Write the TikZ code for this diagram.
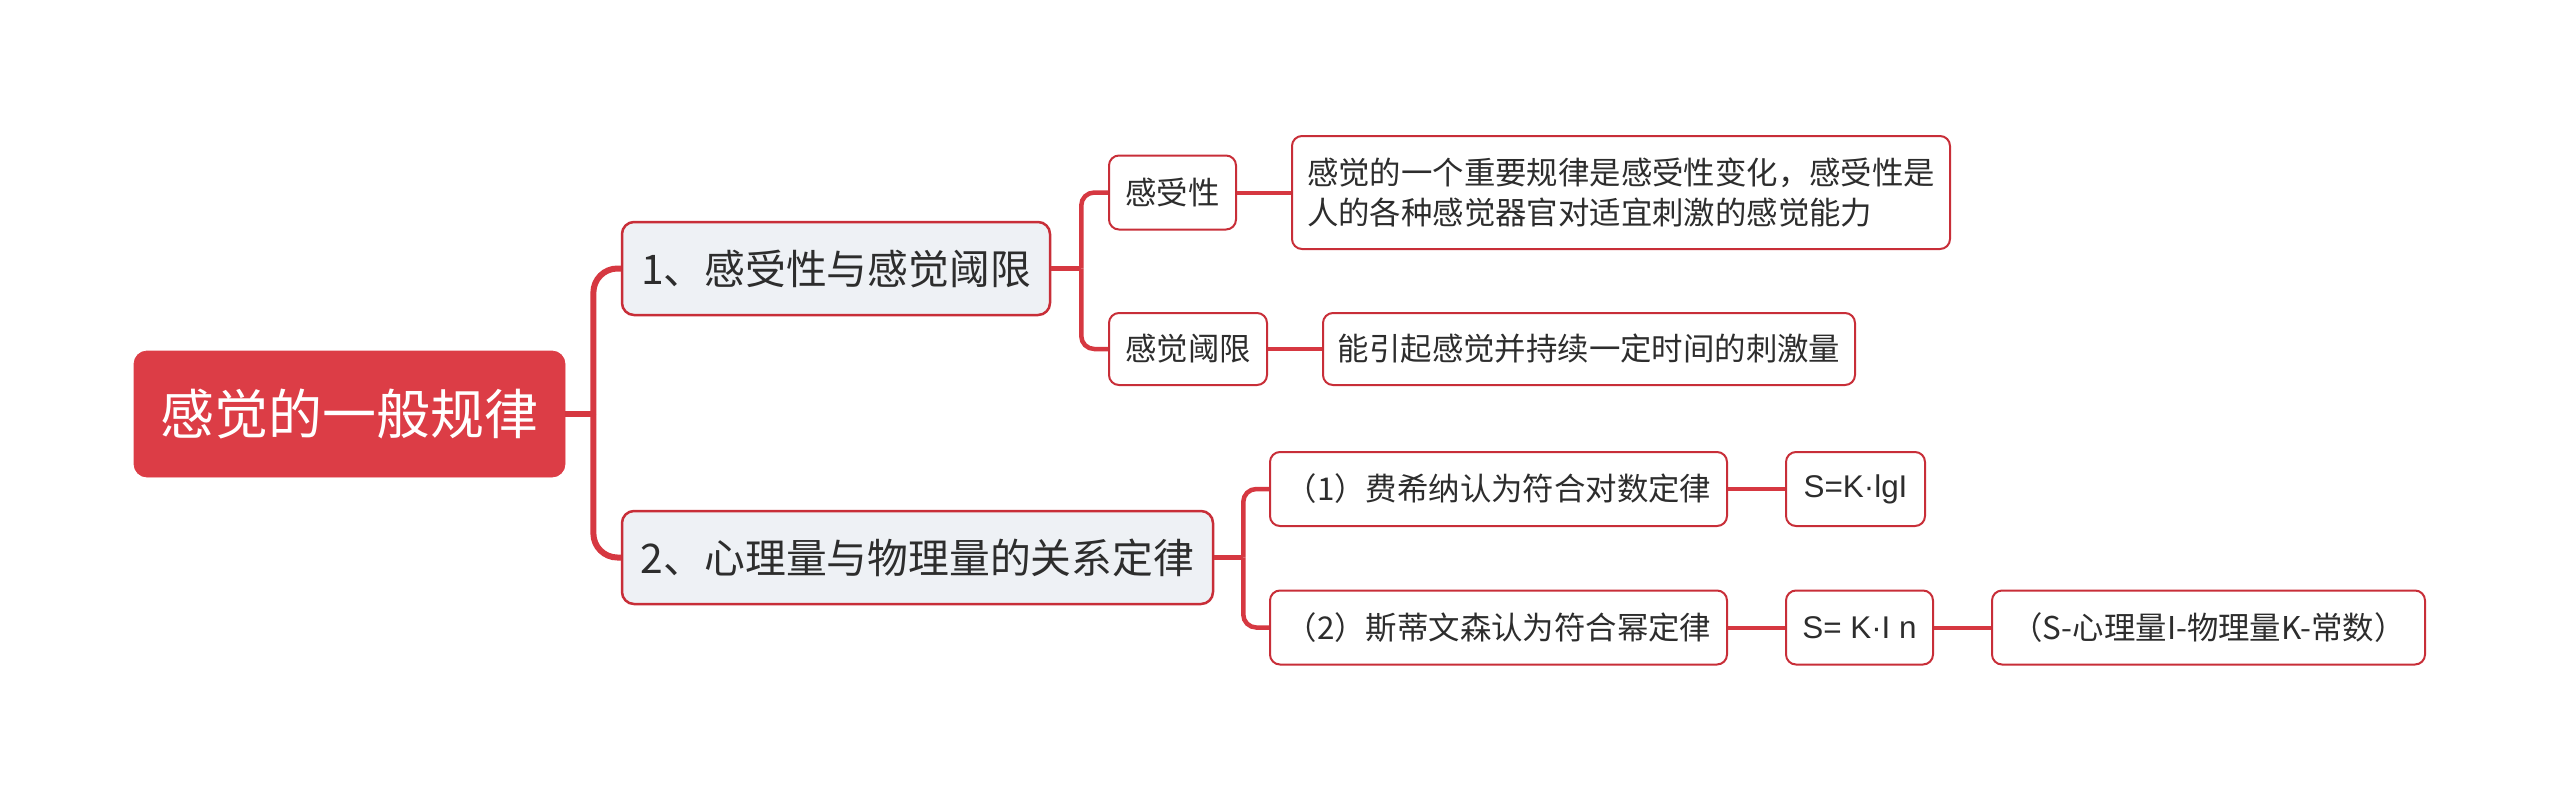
\documentclass[tikz,border=0pt]{standalone}
\usepackage{fontspec}
\setmainfont{Noto Sans CJK SC}
\newfontfamily\formfont{Liberation Sans}
\usetikzlibrary{positioning}

\definecolor{rootred}{RGB}{220,61,70}
\definecolor{edgered}{RGB}{200,46,56}
\definecolor{linered}{RGB}{214,56,65}
\definecolor{topicgray}{RGB}{238,241,245}
\definecolor{textgray}{RGB}{45,45,45}

\begin{document}
\begin{tikzpicture}[
  x=0.5pt, y=-0.5pt,
  node distance=27pt,
  box/.style={draw=edgered, fill=white, line width=1pt, rounded corners=5pt, inner sep=0pt,
              text=textgray, font=\fontsize{15.7}{20}\selectfont, minimum height=37pt, align=center},
  root/.style={fill=rootred, draw=rootred, rounded corners=6.5pt, inner sep=0pt, text=white,
               font=\fontsize{27}{32}\selectfont, minimum width=215.5pt, minimum height=63pt},
  topic/.style={box, fill=topicgray, line width=1.25pt, rounded corners=6pt,
                font=\fontsize{20.4}{24}\selectfont, minimum height=46.5pt},
  link/.style={draw=linered, line width=2pt},
  trunk/.style={draw=linered, line width=3pt, rounded corners=12pt},
  twig/.style={draw=linered, line width=2.25pt, rounded corners=6.5pt}
]
  \useasboundingbox (0,0) rectangle (2560,798);

  \node[root] (root) at (349.5,414) {感觉的一般规律};
  \node[topic, minimum width=214pt] (sense) at (836,268.5) {1、感受性与感觉阈限};
  \node[topic, minimum width=295.5pt] (law) at (917.5,557.5) {2、心理量与物理量的关系定律};

  \node[box, minimum width=63.5pt] (recep) at (1172.5,192.5) {感受性};
  \node[box, minimum width=329pt, minimum height=56.5pt, align=left, right=of recep] (recepd)
    {感觉的一个重要规律是感受性变化，感受性是\\人的各种感觉器官对适宜刺激的感觉能力};
  \node[box, minimum width=79pt, minimum height=36pt] (thres) at (1188,349) {感觉阈限};
  \node[box, minimum width=266pt, minimum height=36pt, right=of thres] (thresd) {能引起感觉并持续一定时间的刺激量};

  \node[box, minimum width=228.5pt] (fech) at (1498.5,489) {（1）费希纳认为符合对数定律};
  \node[box, minimum width=69.5pt, right=28.5pt of fech] (fechf) {\formfont S=K·lgI};
  \node[box, minimum width=228.5pt] (stev) at (1498.5,627.5) {（2）斯蒂文森认为符合幂定律};
  \node[box, minimum width=73.5pt, right=28.5pt of stev] (stevf) {\formfont S= K·I n};
  \node[box, minimum width=216.5pt, right=28.5pt of stevf] (stevn) {（S-心理量I-物理量K-常数）};

  % forks
  \coordinate[right=14pt of root.east] (jroot);
  \coordinate[right=15pt of sense.east] (jsense);
  \coordinate[right=14.5pt of law.east] (jlaw);

  \draw[trunk] (root.east) -- (jroot);
  \draw[trunk] (jroot) |- (sense.west);
  \draw[trunk] (jroot) |- (law.west);

  \draw[twig] (sense.east) -- (jsense);
  \draw[twig] (jsense) |- (recep.west);
  \draw[twig] (jsense) |- (thres.west);

  \draw[twig] (law.east) -- (jlaw);
  \draw[twig] (jlaw) |- (fech.west);
  \draw[twig] (jlaw) |- (stev.west);

  \draw[link] (recep) -- (recepd);
  \draw[link] (thres) -- (thresd);
  \draw[link] (fech) -- (fechf);
  \draw[link] (stev) -- (stevf);
  \draw[link] (stevf) -- (stevn);
\end{tikzpicture}
\end{document}
